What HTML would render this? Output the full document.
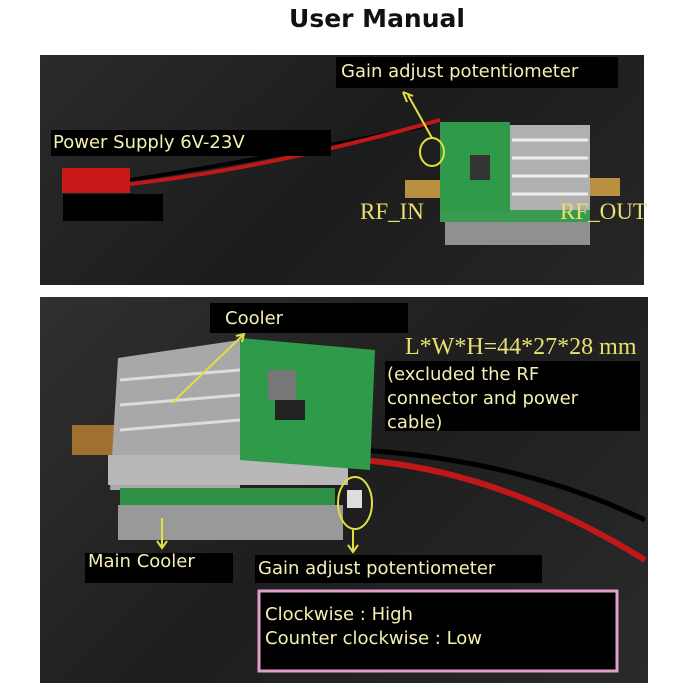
<!DOCTYPE html>
<html><head><style>
body{margin:0;width:690px;height:690px;background:#fff;position:relative;overflow:hidden;font-family:"DejaVu Sans","Liberation Sans",sans-serif}
.a{position:absolute}
.lb{position:absolute;background:#000;color:#f4f0b0;font-size:17px;line-height:1;white-space:nowrap}
.ser{position:absolute;font-family:"Liberation Serif",serif;color:#e8e070;white-space:nowrap}
</style></head><body>
<div class="a" style="left:0;top:4px;width:754px;text-align:center;font-weight:bold;font-size:25px;color:#111">User Manual</div>
<div class="a" style="left:40px;top:55px;width:604px;height:230px;background:linear-gradient(135deg,#2a2a2a,#1c1c1c 50%,#262626)"></div>
<div class="a" style="left:40px;top:297px;width:608px;height:386px;background:linear-gradient(135deg,#303030,#1e1e1e 50%,#2a2a2a)"></div>
<svg class="a" style="left:0;top:0" width="690" height="690">
<path d="M130,180 Q260,160 430,125" stroke="#000" stroke-width="4" fill="none"/>
<path d="M130,184 Q270,168 440,120" stroke="#c01818" stroke-width="4" fill="none"/>
<rect x="62" y="168" width="68" height="25" fill="#c81818"/>
<rect x="405" y="180" width="40" height="18" fill="#b89040"/>
<rect x="585" y="178" width="35" height="18" fill="#b89040"/>
<rect x="445" y="205" width="145" height="40" fill="#909090"/>
<rect x="440" y="210" width="150" height="12" fill="#3a9a50"/>
<rect x="510" y="125" width="80" height="85" fill="#b0b0b0"/>
<g stroke="#eee" stroke-width="3"><line x1="512" y1="140" x2="588" y2="140"/><line x1="512" y1="158" x2="588" y2="158"/><line x1="512" y1="176" x2="588" y2="176"/><line x1="512" y1="194" x2="588" y2="194"/></g>
<rect x="440" y="122" width="70" height="90" fill="#2e9a4a"/>
<rect x="470" y="155" width="20" height="25" fill="#333"/>
<ellipse cx="432" cy="152" rx="12" ry="14" fill="none" stroke="#e0e040" stroke-width="2"/>
<line x1="432" y1="138" x2="408" y2="95" stroke="#e0e040" stroke-width="2"/>
<path d="M403,92 l4,10 M403,92 l10,4" stroke="#e0e040" stroke-width="2"/>
<path d="M360,460 Q500,470 645,560" stroke="#c01818" stroke-width="6" fill="none"/>
<path d="M360,450 Q520,460 645,520" stroke="#000" stroke-width="5" fill="none"/>
<rect x="72" y="425" width="45" height="30" fill="#a07030"/>
<path d="M118,358 L240,340 L240,490 L110,490 Z" fill="#a8a8a8"/>
<g stroke="#dcdcdc" stroke-width="3"><line x1="120" y1="380" x2="240" y2="370"/><line x1="120" y1="405" x2="240" y2="395"/><line x1="120" y1="430" x2="240" y2="420"/></g>
<rect x="108" y="455" width="240" height="30" fill="#b8b8b8"/>
<rect x="120" y="488" width="215" height="20" fill="#2f8f45"/>
<rect x="118" y="505" width="225" height="35" fill="#999"/>
<path d="M240,338 L375,350 L370,470 L240,460 Z" fill="#2e9a4a"/>
<rect x="268" y="370" width="28" height="30" fill="#777"/>
<rect x="275" y="400" width="30" height="20" fill="#222"/>
<ellipse cx="355" cy="503" rx="17" ry="26" fill="none" stroke="#e0e040" stroke-width="2"/>
<rect x="347" y="490" width="15" height="18" fill="#ddd"/>
<g stroke="#e0e040" stroke-width="2" fill="none">
<line x1="172" y1="403" x2="243" y2="335"/><path d="M236,336 l8,-2 l-2,8"/>
<line x1="162" y1="518" x2="162" y2="547"/><path d="M157,541 l5,7 l5,-7"/>
<line x1="353" y1="530" x2="353" y2="551"/><path d="M348,545 l5,7 l5,-7"/>
</g>
<rect x="259" y="591" width="358" height="80" fill="#000" stroke="#e0a0c8" stroke-width="3"/>
</svg>
<div class="lb" style="left:336px;top:57px;width:282px;height:31px;padding:6px 0 0 5px;box-sizing:border-box;font-size:18px">Gain adjust potentiometer</div>
<div class="lb" style="left:51px;top:130px;width:280px;height:26px;padding:4px 0 0 2px;box-sizing:border-box;font-size:18px">Power Supply 6V-23V</div>
<div class="a" style="left:63px;top:194px;width:100px;height:27px;background:#000"></div>
<div class="ser" style="left:360px;top:199px;font-size:23px">RF_IN</div>
<div class="ser" style="left:560px;top:199px;font-size:23px">RF_OUT</div>
<div class="lb" style="left:210px;top:303px;width:198px;height:30px;padding:7px 0 0 15px;box-sizing:border-box;font-size:18px">Cooler</div>
<div class="ser" style="left:405px;top:334px;font-size:24px">L*W*H=44*27*28 mm</div>
<div class="lb" style="left:385px;top:361px;width:255px;height:70px;padding:2px 0 0 2px;box-sizing:border-box;line-height:24px;font-size:18px">(excluded the RF<br>connector and power<br>cable)</div>
<div class="lb" style="left:85px;top:553px;width:148px;height:30px;padding:0 0 0 3px;box-sizing:border-box;line-height:18px;font-size:18px">Main Cooler</div>
<div class="lb" style="left:255px;top:555px;width:287px;height:28px;padding:5px 0 0 3px;box-sizing:border-box;font-size:18px">Gain adjust potentiometer</div>
<div class="lb" style="left:265px;top:603px;background:none;line-height:24px;font-size:18px">Clockwise : High<br>Counter clockwise : Low</div>
</body></html>
